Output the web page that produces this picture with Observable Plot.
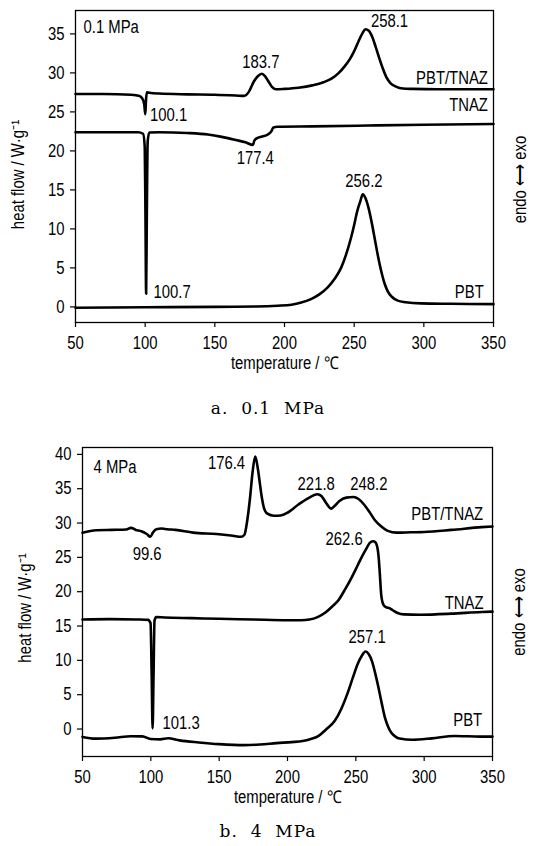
<!DOCTYPE html>
<html><head><meta charset="utf-8">
<script src="https://cdn.jsdelivr.net/npm/d3@7"></script>
<script src="https://cdn.jsdelivr.net/npm/@observablehq/plot@0.6"></script>
<style>
body{margin:0;background:#fff;}
#wrap{position:relative;width:536px;height:846px;overflow:hidden;background:#fff;}
#wrap svg{position:absolute;left:0;}
.cap{position:absolute;left:0;width:536px;text-align:center;font-family:"DejaVu Serif","Liberation Serif",serif;font-size:17px;letter-spacing:1px;white-space:pre;color:#000;line-height:20px;}
</style></head><body><div id="wrap"></div>
<script>
// ---------- axis ticks ----------
const xTicks = [50, 100, 150, 200, 250, 300, 350];
const yTicksA = [0, 5, 10, 15, 20, 25, 30, 35];
const yTicksB = [0, 5, 10, 15, 20, 25, 30, 35, 40];

// ---------- panel a: 0.1 MPa ----------
const tA_mix = [50,70,90,96,98,99.3,100.1,100.6,101.2,103,110,130,150,165,171,174.5,178,181,183.7,186,188.5,191,194,200,210,220,228,234,239,243,247,250,253,256,258.1,260.5,263,265.5,268,270.5,273,276,280,285,292,310,330,350];
const vA_mix = [27.3,27.3,27.2,27.05,26.7,26.0,24.7,26.5,27.5,27.45,27.35,27.25,27.2,27.1,27.05,27.6,28.9,29.6,29.9,29.6,28.9,28.2,27.9,27.95,28.1,28.4,28.8,29.3,30.0,30.8,31.8,32.8,34.0,35.1,35.6,35.4,34.6,33.3,31.9,30.6,29.5,28.7,28.25,28.0,27.95,27.9,27.9,27.9];

const tA_tnaz = [50,80,95,98.5,99.7,100.2,100.7,101.2,101.8,103,110,130,145,155,165,172,177.4,178.3,180,184,188,190.5,192,195,220,260,300,350];
const vA_tnaz = [22.4,22.4,22.4,22.2,20.5,12,1.7,12,21.2,22.35,22.4,22.3,22.1,21.8,21.4,21.1,20.75,21.3,21.6,21.85,22.1,22.5,23.0,23.1,23.15,23.25,23.35,23.45];

const tA_pbt = [50,100,150,180,195,205,212,219,225,231,236,240.6,244,247.8,250,252.1,254.5,256.2,258,260.3,262.5,264.6,267,269.4,272,274.1,277,281.3,287,298,320,350];
const vA_pbt = [-0.1,-0.05,0.0,0.05,0.15,0.28,0.55,1.0,1.6,2.5,3.6,5.0,6.6,8.9,10.5,12.2,13.6,14.45,14.0,12.7,10.9,8.9,6.6,4.6,2.9,2.0,1.3,0.8,0.6,0.45,0.4,0.35];

const labelsA = [
  {text: "258.1", t: 262, v: 36.6},
  {text: "183.7", t: 183, v: 31.4},
  {text: "100.1", t: 103.5, v: 24.5},
  {text: "177.4", t: 179, v: 19.0},
  {text: "256.2", t: 257, v: 16.1},
  {text: "100.7", t: 106, v: 1.9},
  {text: "PBT/TNAZ", t: 346, v: 29.3},
  {text: "TNAZ", t: 346, v: 25.8},
  {text: "PBT", t: 343, v: 1.8}
];

// ---------- panel b: 4 MPa ----------
const tB_mix = [50,60,72,82,85.5,89,93,97,99.6,101.5,104,108,112,118,131,148,160,166,168.5,170.5,172.5,174.5,176.4,178,179.5,181,182.5,185,190,195,200,208,215,221.8,225,228,232,235,238,243,248.2,252,256,260,264,268,273,280,290,300,320,342,350];
const vB_mix = [28.6,28.95,29.0,29.05,29.3,29.0,28.8,28.4,28.0,28.6,29.1,29.2,29.1,29.0,28.6,28.4,28.15,28.0,28.3,30.3,33.5,37.5,39.7,38.3,36.2,34.0,32.4,31.4,31.05,31.1,31.5,32.7,33.6,34.2,33.9,33.0,32.1,32.6,33.2,33.7,33.8,33.5,32.7,31.6,30.4,29.6,28.9,28.6,28.65,28.7,29.0,29.4,29.5];

const tB_tnaz = [50,70,90,98,99.8,100.6,101.3,102,102.7,104,110,130,150,175,200,210,216,222,228,233,237.4,242,247,251,254.2,257.5,260.2,262.6,264.3,265.7,266.6,267.4,268.6,269.6,270.5,272,274.6,277,280.6,285,297,320,342,350];
const vB_tnaz = [15.95,16.0,15.95,15.9,15.4,8,0.1,8,15.8,16.3,16.25,16.15,16.05,15.95,15.85,15.85,15.95,16.3,17.0,17.9,18.8,20.3,22.1,23.7,25.0,26.2,27.1,27.35,27.2,26.5,25.2,23.1,19.5,18.4,18.0,17.75,17.6,17.3,16.9,16.7,16.65,16.8,17.05,17.1];

const tB_pbt = [50,59.5,73.7,85.5,93.8,99.7,106.8,112.7,121,135,150,168.4,180,192,203,211,217,222.8,228,234.6,239.5,244.1,248,251.2,254.5,257.1,259.5,261.8,264.2,266.6,269,271.3,273.7,276,279,282,291.4,305.6,322.2,341.1,350];
const vB_pbt = [-1.15,-1.4,-1.27,-1.05,-1.07,-1.45,-1.5,-1.35,-1.65,-1.95,-2.2,-2.35,-2.25,-2.05,-1.9,-1.75,-1.45,-1.0,-0.1,1.2,3.0,5.3,7.6,9.4,10.7,11.3,10.9,9.9,8.1,6.0,3.7,1.65,0.3,-0.55,-1.1,-1.38,-1.56,-1.36,-1.02,-1.1,-1.1];

const labelsB = [
  {text: "176.4", t: 169, v: 38.7},
  {text: "221.8", t: 221, v: 35.7},
  {text: "248.2", t: 259.5, v: 35.7},
  {text: "99.6", t: 97.3, v: 25.5},
  {text: "262.6", t: 255, v: 27.6},
  {text: "257.1", t: 258.3, v: 13.3},
  {text: "101.3", t: 108.5, v: 0.85},
  {text: "PBT/TNAZ", t: 343.2, v: 31.3},
  {text: "TNAZ", t: 343.4, v: 18.3},
  {text: "PBT", t: 342.4, v: 1.2}
];

const pressureA = "0.1 MPa", pressureB = "4 MPa";
const xLabel = "temperature / \u2103";
const yLabel = "heat flow / W\u00b7g\u207b\u00b9";
const sideLabel = "endo \u27f7 exo";
const captionA = "a.  0.1  MPa", captionB = "b.  4  MPa";

// ---------- drawing ----------
const FONT = '"Liberation Sans",Arial,sans-serif';
const anchorA = {"258.1":"start","100.1":"start","100.7":"start","PBT/TNAZ":"end","TNAZ":"end","PBT":"end"};
const anchorB = {"176.4":"end","262.6":"end","101.3":"start","PBT/TNAZ":"end","TNAZ":"end","PBT":"end"};

function toRows(name, ts, vs) { return ts.map((t, i) => ({name, t, v: vs[i]})); }

function panel(cfg) {
  const rows = cfg.series.flatMap(s => toRows(s[0], s[1], s[2]));
  const byAnchor = a => cfg.labels.filter(d => (cfg.anchors[d.text] || "middle") === a);
  return Plot.plot({
    width: 536, height: cfg.height,
    marginLeft: cfg.ml, marginRight: cfg.mr, marginTop: 10, marginBottom: 63,
    style: {fontFamily: FONT, fontSize: "17.5px", color: "#000", background: "#fff", overflow: "visible"},
    x: {domain: [50, 350]},
    y: {domain: cfg.yDomain},
    marks: [
      Plot.axisX({ticks: xTicks, tickSize: 5, tickPadding: 9, label: null, strokeWidth: 1.2}),
      Plot.axisY({ticks: cfg.yTicks, tickSize: 5, tickPadding: 6, label: null, strokeWidth: 1.2}),
      Plot.frame({stroke: "#000", strokeWidth: 1.3}),
      Plot.line(rows, {x: "t", y: "v", z: "name", curve: "monotone-x", stroke: "#000", strokeWidth: 2.6}),
      ...["start", "middle", "end"].map(a => Plot.text(byAnchor(a), {x: "t", y: "v", text: "text", textAnchor: a, lineAnchor: "middle", fill: "#000"})),
      Plot.text([cfg.pressure], {frameAnchor: "top-left", dx: cfg.pdx, dy: cfg.pdy, textAnchor: "start", lineAnchor: "middle", fill: "#000"}),
      Plot.text([xLabel], {frameAnchor: "bottom", dy: 41, textAnchor: "middle", lineAnchor: "middle", fill: "#000"}),
      Plot.text([yLabel], {frameAnchor: "left", rotate: -90, dx: cfg.ydx, dy: cfg.ydy, textAnchor: "middle", lineAnchor: "middle", fill: "#000"}),
      Plot.text([sideLabel], {frameAnchor: "right", rotate: -90, dx: 27, dy: cfg.sdy, textAnchor: "middle", lineAnchor: "middle", fill: "#000"})
    ]
  });
}

const wrap = document.getElementById("wrap");
const svgA = panel({
  height: 385, ml: 75, mr: 43, yDomain: [-2, 38], yTicks: yTicksA,
  series: [["PBT/TNAZ", tA_mix, vA_mix], ["TNAZ", tA_tnaz, vA_tnaz], ["PBT", tA_pbt, vA_pbt]],
  labels: labelsA, anchors: anchorA, pressure: pressureA, pdx: 8, pdy: 17,
  ydx: -57, ydy: 8, sdy: 13
});
svgA.style.top = "0px";
wrap.appendChild(svgA);

const svgB = panel({
  height: 382, ml: 82, mr: 44, yDomain: [-4, 41], yTicks: yTicksB,
  series: [["PBT/TNAZ", tB_mix, vB_mix], ["TNAZ", tB_tnaz, vB_tnaz], ["PBT", tB_pbt, vB_pbt]],
  labels: labelsB, anchors: anchorB, pressure: pressureB, pdx: 11, pdy: 20,
  ydx: -57, ydy: 6, sdy: 10
});
svgB.style.top = "437px";
wrap.appendChild(svgB);

// condensed look of the original sans font
for (const svg of [svgA, svgB]) {
  svg.querySelectorAll("text").forEach(el => {
    const L = el.getComputedTextLength();
    if (L > 0) {
      el.setAttribute("textLength", (L * 0.85).toFixed(1));
      el.setAttribute("lengthAdjust", "spacingAndGlyphs");
    }
  });
}

const capA = document.createElement("div");
capA.className = "cap"; capA.style.top = "398px"; capA.textContent = captionA;
wrap.appendChild(capA);
const capB = document.createElement("div");
capB.className = "cap"; capB.style.top = "821px"; capB.textContent = captionB;
wrap.appendChild(capB);
</script>
</body></html>
